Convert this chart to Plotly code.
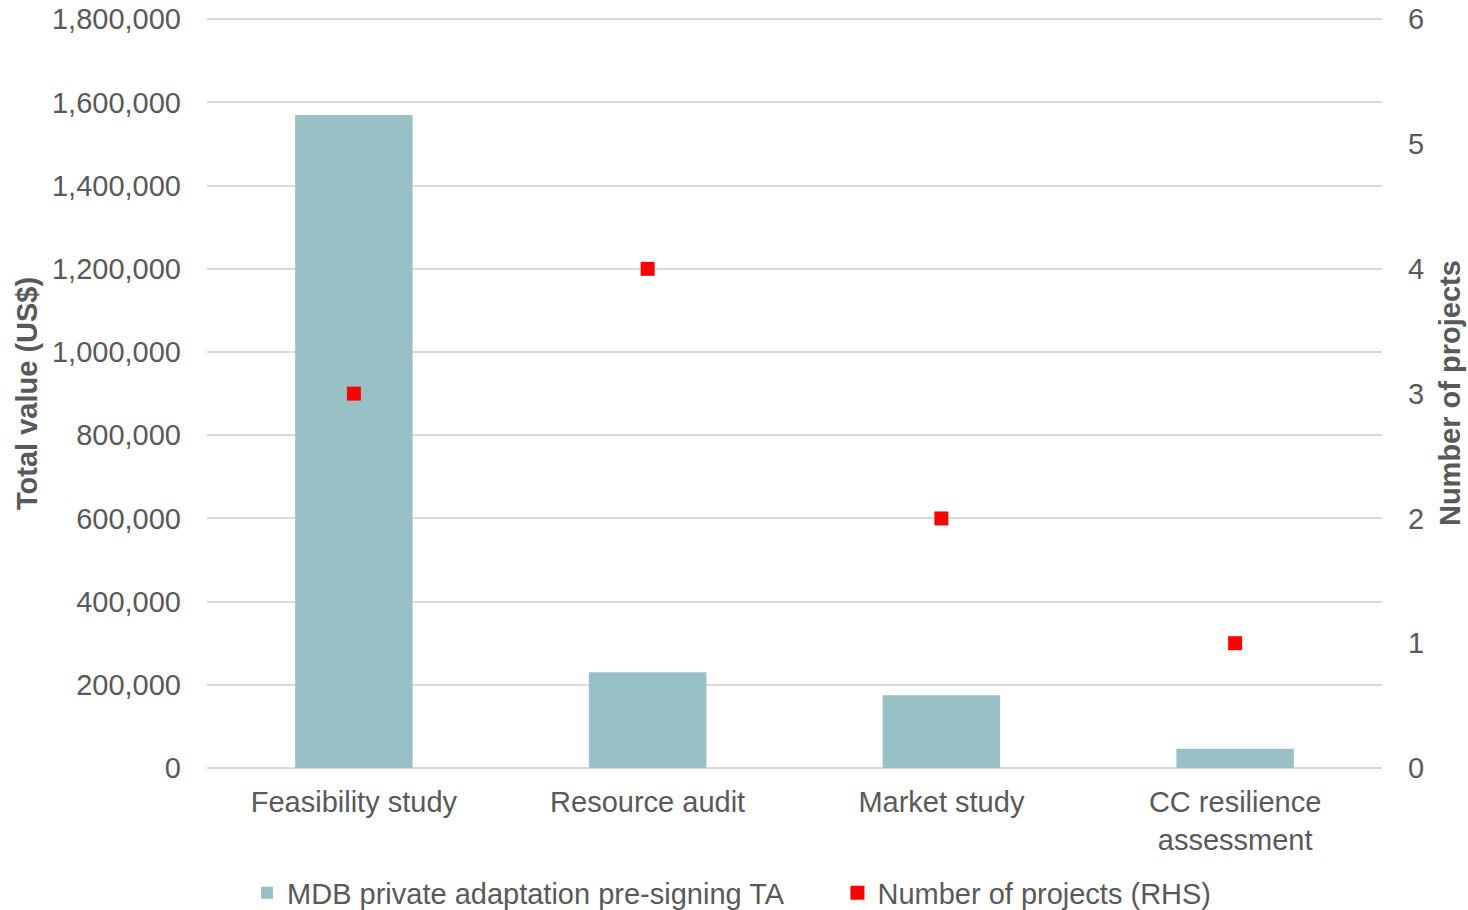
import plotly.graph_objects as go

categories = ["Feasibility study", "Resource audit", "Market study", "CC resilience<br>assessment"]
total_value = [1570000, 230000, 175000, 46000]
num_projects = [3, 4, 2, 1]
left_ticks = [0, 200000, 400000, 600000, 800000, 1000000, 1200000, 1400000, 1600000, 1800000]
right_ticks = [0, 1, 2, 3, 4, 5, 6]
series_names = ["MDB private adaptation pre-signing TA", "Number of projects (RHS)"]

FONT = "Liberation Sans, Arial, sans-serif"
GREY = "#595959"
FS = 29
YMAX = 1803000  # a hair above 1.8M so the top gridline is drawn
PAD = "&nbsp;" * 6  # widens the gap between the two legend entries

fig = go.Figure()
fig.add_trace(go.Bar(
    x=categories, y=total_value, name=series_names[0] + PAD,
    marker=dict(color="#99c1c5", line=dict(width=0)), yaxis="y",
))
fig.add_trace(go.Scatter(
    x=categories, y=num_projects, name=series_names[1], mode="markers",
    marker=dict(symbol="square", color="#ff0000", size=14, line=dict(width=0)), yaxis="y2",
))

fig.update_layout(
    width=1468, height=910,
    margin=dict(l=207, r=86, t=18, b=142, autoexpand=False),
    paper_bgcolor="white", plot_bgcolor="white",
    font=dict(family=FONT, size=FS, color=GREY),
    bargap=0.6,
    showlegend=True,
    legend=dict(orientation="h", xref="container", yref="container",
                x=0.1683, xanchor="left", y=0.0187, yanchor="middle",
                font=dict(size=FS, color=GREY), itemwidth=30, tracegroupgap=0),
    xaxis=dict(showgrid=False, showline=False, ticks="", automargin=False,
               ticklabelstandoff=14, tickfont=dict(size=FS, color=GREY)),
    yaxis=dict(range=[0, YMAX], tickvals=left_ticks, tickformat=",", showgrid=True,
               gridcolor="#d9d9d9", gridwidth=1.5, zeroline=True, zerolinecolor="#d9d9d9",
               zerolinewidth=1.5, ticks="", automargin=False, ticklabelstandoff=25,
               ticklabeloverflow="allow", tickfont=dict(size=FS, color=GREY)),
    yaxis2=dict(range=[0, 6 * YMAX / 1800000], tickvals=right_ticks, overlaying="y", side="right",
                showgrid=False, zeroline=False, ticks="", automargin=False, ticklabelstandoff=25,
                ticklabeloverflow="allow", tickfont=dict(size=FS, color=GREY)),
    annotations=[
        dict(text="<b>Total value (US$)</b>", xref="paper", yref="paper", x=-0.1532, y=0.5,
             xanchor="center", yanchor="middle", textangle=-90, showarrow=False,
             font=dict(size=FS, color=GREY)),
        dict(text="<b>Number of projects</b>", xref="paper", yref="paper", x=1.0579, y=0.5,
             xanchor="center", yanchor="middle", textangle=-90, showarrow=False,
             font=dict(size=FS, color=GREY)),
    ],
)

fig.write_html("out.html", config={"displayModeBar": False},
               post_script="document.body.style.margin='0';")
